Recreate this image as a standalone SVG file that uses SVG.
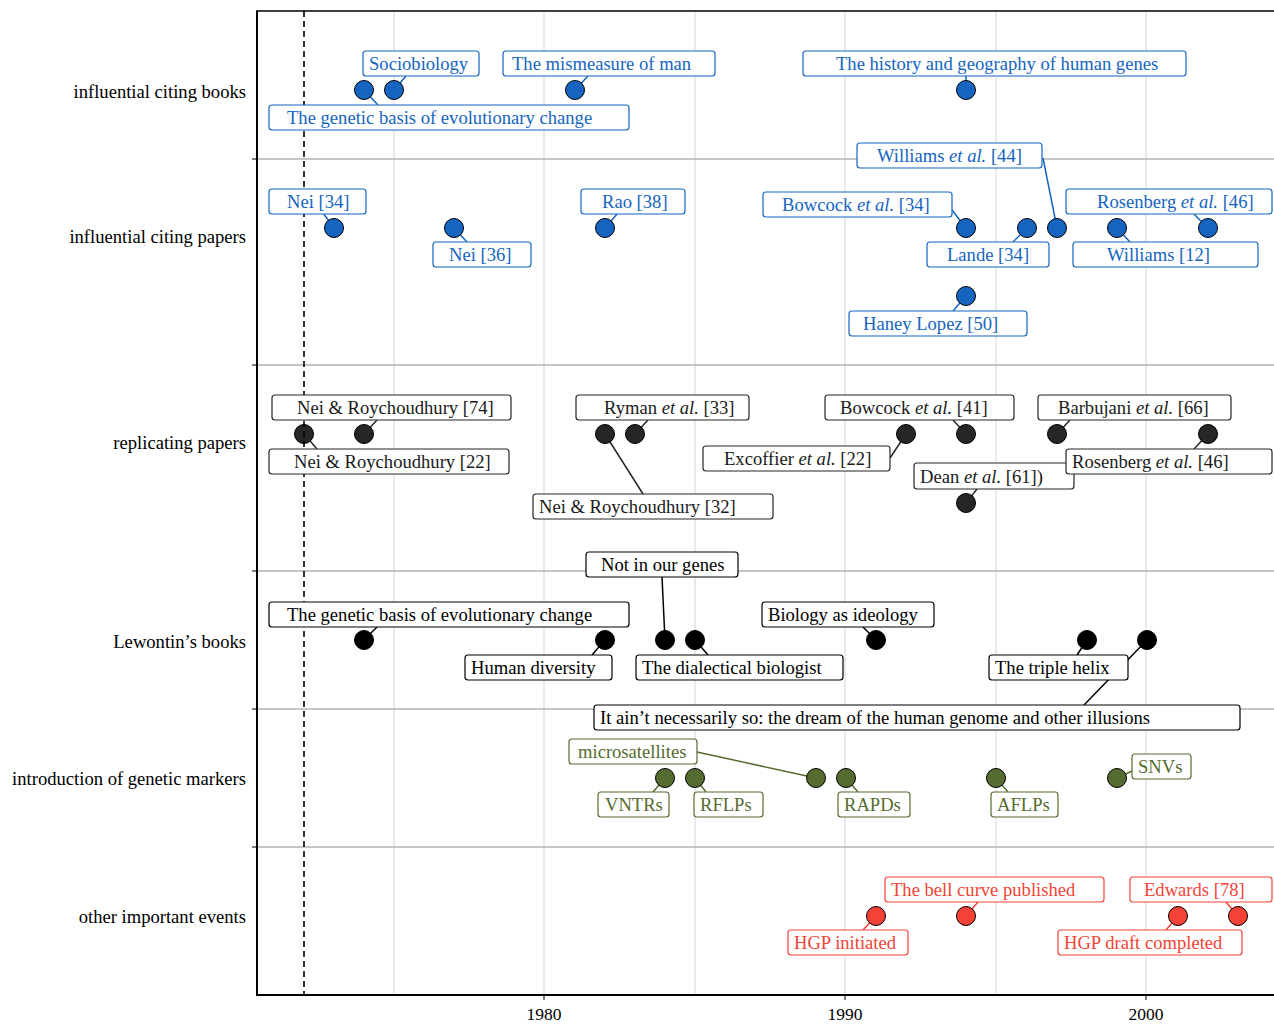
<svg xmlns="http://www.w3.org/2000/svg" width="1274" height="1025" viewBox="0 0 1274 1025">
<style>
text{font-family:"Liberation Serif","Times New Roman",serif;font-size:18.6px}
.ax{text-anchor:end;fill:#000}
.tk{text-anchor:middle;fill:#000;font-size:17.5px}
.grid{stroke:#e3e3e3;stroke-width:1.5}
.sep{stroke:#b3b3b3;stroke-width:1.5}
rect{fill:#fff;stroke-width:1.2}
circle{stroke:#000;stroke-width:1}
line.c{stroke-width:1.5}
.b rect{stroke:#1565C0}.b text{fill:#1565C0}.b circle{fill:#1565C0}
.d rect{stroke:#262626}.d text{fill:#1a1a1a}.d circle{fill:#262626}
.k rect{stroke:#000}.k text{fill:#000}.k circle{fill:#000}
.g rect{stroke:#556B2F}.g text{fill:#556B2F}.g circle{fill:#556B2F}
.r rect{stroke:#F44336}.r text{fill:#F44336}.r circle{fill:#F44336}
.cb{stroke:#1565C0}.cd{stroke:#262626}.ck{stroke:#000}.cg{stroke:#556B2F}.cr{stroke:#F44336}
</style>
<rect x="0" y="0" width="1274" height="1025" style="fill:#fff;stroke:none"/>
<g id="grid">
<line class="grid" x1="394" y1="11" x2="394" y2="995"/>
<line class="grid" x1="544" y1="11" x2="544" y2="995"/>
<line class="grid" x1="695" y1="11" x2="695" y2="995"/>
<line class="grid" x1="845" y1="11" x2="845" y2="995"/>
<line class="grid" x1="996" y1="11" x2="996" y2="995"/>
<line class="grid" x1="1146" y1="11" x2="1146" y2="995"/>
<line class="sep" x1="257" y1="159" x2="1274" y2="159"/>
<line class="sep" x1="257" y1="365" x2="1274" y2="365"/>
<line class="sep" x1="257" y1="571" x2="1274" y2="571"/>
<line class="sep" x1="257" y1="709" x2="1274" y2="709"/>
<line class="sep" x1="257" y1="847" x2="1274" y2="847"/>
</g>
<g id="axes" stroke="#000">
<line x1="257" y1="11" x2="257" y2="996" stroke-width="2"/>
<line x1="256" y1="11" x2="1274" y2="11" stroke-width="1.5"/>
<line x1="256" y1="995" x2="1274" y2="995" stroke-width="2"/>
<line x1="544" y1="995" x2="544" y2="1000"/>
<line x1="845" y1="995" x2="845" y2="1000"/>
<line x1="1146" y1="995" x2="1146" y2="1000"/>
<line x1="252" y1="159" x2="257" y2="159"/>
<line x1="252" y1="365" x2="257" y2="365"/>
<line x1="252" y1="571" x2="257" y2="571"/>
<line x1="252" y1="709" x2="257" y2="709"/>
<line x1="252" y1="847" x2="257" y2="847"/>
</g>
<g id="axis-labels">
<text class="ax" x="246" y="98">influential citing books</text>
<text class="ax" x="246" y="243">influential citing papers</text>
<text class="ax" x="246" y="449">replicating papers</text>
<text class="ax" x="246" y="648">Lewontin’s books</text>
<text class="ax" x="246" y="785">introduction of genetic markers</text>
<text class="ax" x="246" y="923">other important events</text>
<text class="tk" x="544" y="1020">1980</text>
<text class="tk" x="845" y="1020">1990</text>
<text class="tk" x="1146" y="1020">2000</text>
</g>
<g id="connectors">
<line class="c cb" x1="394" y1="90" x2="406" y2="76"/>
<line class="c cb" x1="364" y1="90" x2="378" y2="105"/>
<line class="c cb" x1="575" y1="90" x2="588" y2="76"/>
<line class="c cb" x1="966" y1="90" x2="966" y2="76"/>
<line class="c cb" x1="334" y1="228" x2="323" y2="213"/>
<line class="c cb" x1="454" y1="228" x2="467" y2="242"/>
<line class="c cb" x1="605" y1="228" x2="617" y2="214"/>
<line class="c cb" x1="966" y1="228" x2="952" y2="210"/>
<line class="c cb" x1="1027" y1="228" x2="1013" y2="242"/>
<line class="c cb" x1="1057" y1="228" x2="1043" y2="158"/>
<line class="c cb" x1="1117" y1="228" x2="1130" y2="242"/>
<line class="c cb" x1="1208" y1="228" x2="1194" y2="214"/>
<line class="c cb" x1="966" y1="296" x2="953" y2="311"/>
<line class="c cd" x1="364" y1="434" x2="377" y2="420"/>
<line class="c cd" x1="304" y1="434" x2="317" y2="449"/>
<line class="c cd" x1="605" y1="434" x2="643" y2="494"/>
<line class="c cd" x1="635" y1="434" x2="648" y2="420"/>
<line class="c cd" x1="906" y1="434" x2="890" y2="458"/>
<line class="c cd" x1="966" y1="434" x2="953" y2="420"/>
<line class="c cd" x1="1057" y1="434" x2="1070" y2="420"/>
<line class="c cd" x1="966" y1="503" x2="977" y2="489"/>
<line class="c cd" x1="1208" y1="434" x2="1194" y2="449"/>
<line class="c ck" x1="364" y1="640" x2="377" y2="627"/>
<line class="c ck" x1="605" y1="640" x2="592" y2="655"/>
<line class="c ck" x1="665" y1="640" x2="662" y2="577"/>
<line class="c ck" x1="695" y1="640" x2="708" y2="655"/>
<line class="c ck" x1="876" y1="640" x2="863" y2="627"/>
<line class="c ck" x1="1087" y1="640" x2="1077" y2="655"/>
<line class="c ck" x1="1147" y1="640" x2="1084" y2="705"/>
<line class="c cg" x1="816" y1="778" x2="697" y2="752"/>
<line class="c cg" x1="665" y1="778" x2="653" y2="792"/>
<line class="c cg" x1="695" y1="778" x2="706" y2="792"/>
<line class="c cg" x1="846" y1="778" x2="858" y2="792"/>
<line class="c cg" x1="996" y1="778" x2="1008" y2="792"/>
<line class="c cg" x1="1117" y1="778" x2="1132" y2="771"/>
<line class="c cr" x1="876" y1="916" x2="863" y2="930"/>
<line class="c cr" x1="966" y1="916" x2="978" y2="902"/>
<line class="c cr" x1="1178" y1="916" x2="1166" y2="930"/>
<line class="c cr" x1="1238" y1="916" x2="1226" y2="902"/>
</g>
<g id="dots">
<g class="b">
<circle id="dot-sociobiology" cx="394" cy="90" r="9.5"/>
<circle id="dot-genetic-basis-book" cx="364" cy="90" r="9.5"/>
<circle id="dot-mismeasure" cx="575" cy="90" r="9.5"/>
<circle id="dot-history" cx="966" cy="90" r="9.5"/>
<circle id="dot-nei34" cx="334" cy="228" r="9.5"/>
<circle id="dot-nei36" cx="454" cy="228" r="9.5"/>
<circle id="dot-rao38" cx="605" cy="228" r="9.5"/>
<circle id="dot-bowcock34" cx="966" cy="228" r="9.5"/>
<circle id="dot-lande34" cx="1027" cy="228" r="9.5"/>
<circle id="dot-williams44" cx="1057" cy="228" r="9.5"/>
<circle id="dot-williams12" cx="1117" cy="228" r="9.5"/>
<circle id="dot-rosenberg46p" cx="1208" cy="228" r="9.5"/>
<circle id="dot-haneylopez50" cx="966" cy="296" r="9.5"/>
</g>
<g class="d">
<circle id="dot-nr74" cx="364" cy="434" r="9.5"/>
<circle id="dot-nr22" cx="304" cy="434" r="9.5"/>
<circle id="dot-nr32" cx="605" cy="434" r="9.5"/>
<circle id="dot-ryman33" cx="635" cy="434" r="9.5"/>
<circle id="dot-excoffier22" cx="906" cy="434" r="9.5"/>
<circle id="dot-bowcock41" cx="966" cy="434" r="9.5"/>
<circle id="dot-barbujani66" cx="1057" cy="434" r="9.5"/>
<circle id="dot-dean61" cx="966" cy="503" r="9.5"/>
<circle id="dot-rosenberg46r" cx="1208" cy="434" r="9.5"/>
</g>
<g class="k">
<circle id="dot-genetic-basis-lew" cx="364" cy="640" r="9.5"/>
<circle id="dot-human-diversity" cx="605" cy="640" r="9.5"/>
<circle id="dot-not-in-our-genes" cx="665" cy="640" r="9.5"/>
<circle id="dot-dialectical" cx="695" cy="640" r="9.5"/>
<circle id="dot-biology-ideology" cx="876" cy="640" r="9.5"/>
<circle id="dot-triple-helix" cx="1087" cy="640" r="9.5"/>
<circle id="dot-aint-so" cx="1147" cy="640" r="9.5"/>
</g>
<g class="g">
<circle id="dot-vntrs" cx="665" cy="778" r="9.5"/>
<circle id="dot-rflps" cx="695" cy="778" r="9.5"/>
<circle id="dot-microsatellites" cx="816" cy="778" r="9.5"/>
<circle id="dot-rapds" cx="846" cy="778" r="9.5"/>
<circle id="dot-aflps" cx="996" cy="778" r="9.5"/>
<circle id="dot-snvs" cx="1117" cy="778" r="9.5"/>
</g>
<g class="r">
<circle id="dot-hgp-initiated" cx="876" cy="916" r="9.5"/>
<circle id="dot-bell-curve" cx="966" cy="916" r="9.5"/>
<circle id="dot-hgp-draft" cx="1178" cy="916" r="9.5"/>
<circle id="dot-edwards78" cx="1238" cy="916" r="9.5"/>
</g>
</g>
<line id="ref-line" x1="304" y1="11" x2="304" y2="995" stroke="#000" stroke-width="1.6" stroke-dasharray="6 4"/>
<g id="labels">
<g class="b">
<g id="sociobiology"><rect x="363" y="51" width="116" height="25" rx="3"/><text x="369" y="70">Sociobiology</text></g>
<g id="genetic-basis-book"><rect x="269" y="105" width="360" height="25" rx="3"/><text x="287" y="124">The genetic basis of evolutionary change</text></g>
<g id="mismeasure"><rect x="503" y="51" width="212" height="25" rx="3"/><text x="512" y="70">The mismeasure of man</text></g>
<g id="history"><rect x="803" y="51" width="383" height="25" rx="3"/><text x="836" y="70">The history and geography of human genes</text></g>
<g id="nei34"><rect x="269" y="189" width="97" height="25" rx="3"/><text x="287" y="208">Nei [34]</text></g>
<g id="nei36"><rect x="433" y="242" width="98" height="25" rx="3"/><text x="449" y="261">Nei [36]</text></g>
<g id="rao38"><rect x="581" y="189" width="104" height="25" rx="3"/><text x="602" y="208">Rao [38]</text></g>
<g id="williams44"><rect x="857" y="143" width="185" height="25" rx="3"/><text x="877" y="162">Williams <tspan font-style="italic">et al.</tspan> [44]</text></g>
<g id="bowcock34"><rect x="763" y="192" width="189" height="25" rx="3"/><text x="782" y="211">Bowcock <tspan font-style="italic">et al.</tspan> [34]</text></g>
<g id="rosenberg46p"><rect x="1066" y="189" width="206" height="25" rx="3"/><text x="1097" y="208">Rosenberg <tspan font-style="italic">et al.</tspan> [46]</text></g>
<g id="lande34"><rect x="927" y="242" width="122" height="25" rx="3"/><text x="947" y="261">Lande [34]</text></g>
<g id="williams12"><rect x="1073" y="242" width="185" height="25" rx="3"/><text x="1107" y="261">Williams [12]</text></g>
<g id="haneylopez50"><rect x="849" y="311" width="178" height="25" rx="3"/><text x="863" y="330">Haney Lopez [50]</text></g>
</g>
<g class="d">
<g id="nr74"><rect x="272" y="395" width="239" height="25" rx="3"/><text x="297" y="414">Nei &amp; Roychoudhury [74]</text></g>
<g id="nr22"><rect x="269" y="449" width="240" height="25" rx="3"/><text x="294" y="468">Nei &amp; Roychoudhury [22]</text></g>
<g id="nr32"><rect x="533" y="494" width="240" height="25" rx="3"/><text x="539" y="513">Nei &amp; Roychoudhury [32]</text></g>
<g id="ryman33"><rect x="576" y="395" width="173" height="25" rx="3"/><text x="604" y="414">Ryman <tspan font-style="italic">et al.</tspan> [33]</text></g>
<g id="excoffier22"><rect x="703" y="446" width="187" height="25" rx="3"/><text x="724" y="465">Excoffier <tspan font-style="italic">et al.</tspan> [22]</text></g>
<g id="bowcock41"><rect x="825" y="395" width="189" height="25" rx="3"/><text x="840" y="414">Bowcock <tspan font-style="italic">et al.</tspan> [41]</text></g>
<g id="barbujani66"><rect x="1038" y="395" width="193" height="25" rx="3"/><text x="1058" y="414">Barbujani <tspan font-style="italic">et al.</tspan> [66]</text></g>
<g id="dean61"><rect x="914" y="463" width="160" height="26" rx="3"/><text x="920" y="483">Dean <tspan font-style="italic">et al.</tspan> [61])</text></g>
<g id="rosenberg46r"><rect x="1066" y="449" width="206" height="25" rx="3"/><text x="1072" y="468">Rosenberg <tspan font-style="italic">et al.</tspan> [46]</text></g>
</g>
<g class="k">
<g id="not-in-our-genes"><rect x="586" y="552" width="152" height="25" rx="3"/><text x="601" y="571">Not in our genes</text></g>
<g id="genetic-basis-lew"><rect x="269" y="602" width="360" height="25" rx="3"/><text x="287" y="621">The genetic basis of evolutionary change</text></g>
<g id="human-diversity"><rect x="465" y="655" width="147" height="25" rx="3"/><text x="471" y="674">Human diversity</text></g>
<g id="dialectical"><rect x="636" y="655" width="207" height="25" rx="3"/><text x="642" y="674">The dialectical biologist</text></g>
<g id="biology-ideology"><rect x="762" y="602" width="172" height="25" rx="3"/><text x="768" y="621">Biology as ideology</text></g>
<g id="triple-helix"><rect x="989" y="655" width="139" height="25" rx="3"/><text x="995" y="674">The triple helix</text></g>
<g id="aint-so"><rect x="594" y="705" width="646" height="25" rx="3"/><text x="600" y="724">It ain’t necessarily so: the dream of the human genome and other illusions</text></g>
</g>
<g class="g">
<g id="microsatellites"><rect x="569" y="739" width="128" height="25" rx="3"/><text x="578" y="758">microsatellites</text></g>
<g id="vntrs"><rect x="598" y="792" width="71" height="25" rx="3"/><text x="605" y="811">VNTRs</text></g>
<g id="rflps"><rect x="694" y="792" width="69" height="25" rx="3"/><text x="700" y="811">RFLPs</text></g>
<g id="rapds"><rect x="838" y="792" width="72" height="25" rx="3"/><text x="844" y="811">RAPDs</text></g>
<g id="aflps"><rect x="991" y="792" width="67" height="25" rx="3"/><text x="997" y="811">AFLPs</text></g>
<g id="snvs"><rect x="1132" y="754" width="59" height="25" rx="3"/><text x="1138" y="773">SNVs</text></g>
</g>
<g class="r">
<g id="hgp-initiated"><rect x="788" y="930" width="120" height="25" rx="3"/><text x="794" y="949">HGP initiated</text></g>
<g id="bell-curve"><rect x="885" y="877" width="219" height="25" rx="3"/><text x="891" y="896">The bell curve published</text></g>
<g id="hgp-draft"><rect x="1058" y="930" width="184" height="25" rx="3"/><text x="1064" y="949">HGP draft completed</text></g>
<g id="edwards78"><rect x="1130" y="877" width="142" height="25" rx="3"/><text x="1144" y="896">Edwards [78]</text></g>
</g>
</g>
</svg>
